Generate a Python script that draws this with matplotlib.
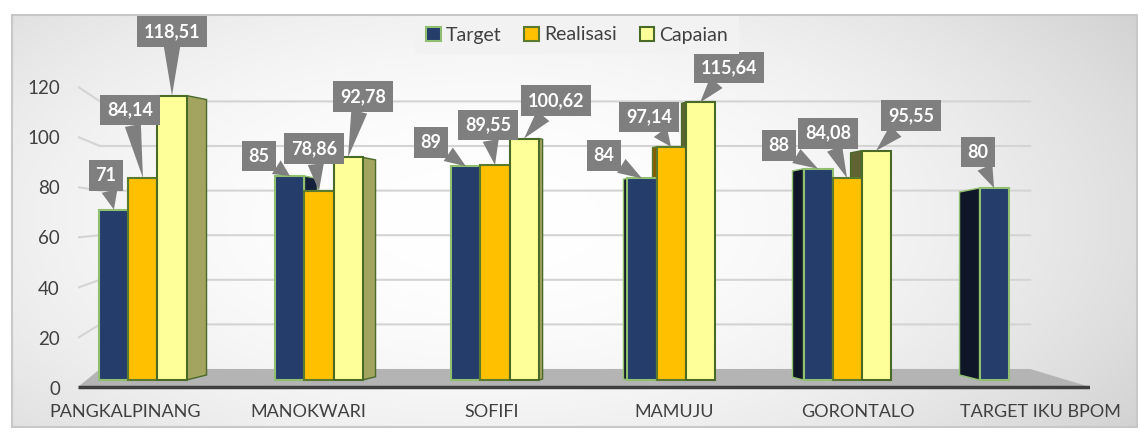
import matplotlib
matplotlib.use('Agg')
import matplotlib.pyplot as plt
import numpy as np
from matplotlib.patches import Polygon, Rectangle

plt.rcParams['font.family'] = ['Lato', 'DejaVu Sans']

# ── Data ──────────────────────────────────────────────────────────────────────
categories = ['PANGKALPINANG', 'MANOKWARI', 'SOFIFI', 'MAMUJU', 'GORONTALO', 'TARGET IKU BPOM']
target     = [71, 85, 89, 84, 88, 80]
realisasi  = [84.14, 78.86, 89.55, 97.14, 84.08, None]
capaian    = [118.51, 92.78, 100.62, 115.64, 95.55, None]
y_ticks    = [0, 20, 40, 60, 80, 100, 120]

# ── Style ─────────────────────────────────────────────────────────────────────
W  = 0.165          # bar width (category units)
PX = 1 / 176        # data-x per pixel
PY = 1 / 2.4        # data-y per pixel
depth_px = [20, 13, 4, -4, -11, -20]   # fake 3D side faces

series = [
    # name, values, front, edge, right face, left face, offset
    ('Target',    target,    '#253d6b', '#8fbf6f', '#15213a', '#0f1628', -W),
    ('Realisasi', realisasi, '#ffc000', '#5a7a2e', '#b08400', '#8a5a00', 0.0),
    ('Capaian',   capaian,   '#ffff99', '#4a6a28', '#a4a461', '#5f6432', W),
]

# label offsets in pixels (box centre relative to bar top)
label_offsets = [
    [(-8, 34), (-31, 20), (-35, 24), (-38, 23), (-39, 23), (-16, 36)],
    [(-13, 68), (-5, 42), (-7, 40), (-22, 30), (-19, 45)],
    [(0, 64), (15, 61), (32, 38), (29, 35), (35, 35)],
]

TXT = '#404040'

def fmt(v):
    return str(int(v)) if float(v).is_integer() else f'{v:.2f}'.replace('.', ',')

fig = plt.figure(figsize=(11.47, 4.37), dpi=100)

# ── Background: light gradient panel with border ─────────────────────────────
bg = fig.add_axes([0, 0, 1, 1], zorder=0)
bg.set_axis_off()
bg.set_xlim(0, 1147)
bg.set_ylim(437, 0)
gx, gy = np.meshgrid(np.linspace(0, 1, 400), np.linspace(0, 1, 160))
r = np.sqrt(((gx - 0.42) / 0.72) ** 2 + ((gy - 0.5) / 0.95) ** 2)
shade = 1 - 0.19 * np.clip(r, 0, 1.2) ** 2
bg.imshow(np.dstack([shade] * 3), extent=(12, 1137, 427, 15), aspect='auto',
          interpolation='bilinear')
bg.add_patch(Rectangle((12, 15), 1125, 412, fill=False, ec='#c8c8c8', lw=1.5))

# ── Main axes ────────────────────────────────────────────────────────────────
ax = fig.add_axes([78 / 1147, (437 - 389.6) / 437, 1012 / 1147, (389.6 - 44) / 437], zorder=1)
ax.patch.set_alpha(0)
ax.set_xlim(-0.369, 5.38)
ax.set_ylim(-4, 140)
for sp in ax.spines.values():
    sp.set_visible(False)

# perspective gridlines (left wall + back wall)
for v in y_ticks[1:]:
    front = (2.51 * v - 8) * PY
    back = (11 + 2.23 * v) * PY
    ax.plot([-0.369, -0.244, 5.04], [front, back, back], color='#d4d4d4', lw=1.5, zorder=1)

# floor
ax.add_patch(Polygon([(-0.369, -2.9), (5.38, -2.9), (5.04, 4.6), (-0.244, 4.6)],
                     closed=True, fc='#b4b4b4', ec='none', zorder=1.5))
ax.plot([-0.369, 5.38], [-2.9, -2.9], color='#3f3f3f', lw=2.5, zorder=1.6,
        solid_capstyle='butt')

# bars
for si, (name, vals, fc, ec, rface, lface, off) in enumerate(series):
    xs = [i + off for i, v in enumerate(vals) if v is not None]
    hs = [v for v in vals if v is not None]
    ax.bar(xs, hs, W, color=fc, edgecolor=ec, linewidth=1.5, label=name, zorder=3)
    for i, v in enumerate(vals):
        if v is None:
            continue
        xc = i + off
        d = depth_px[i]
        xe = xc + W / 2 if d > 0 else xc - W / 2
        dx = d * PX
        pts = [(xe, 0), (xe + dx, 0.25 * abs(d) * PY),
               (xe + dx, v - 0.2 * abs(d) * PY), (xe, v)]
        ax.add_patch(Polygon(pts, closed=True, fc=rface if d > 0 else lface,
                             ec=ec, lw=1.0, zorder=2))
        ox, oy = label_offsets[si][i]
        ax.annotate(fmt(v), xy=(xc, v), xytext=(ox, oy), textcoords='offset pixels',
                    ha='center', va='center', color='white', fontsize=13,
                    fontweight='bold', zorder=5, annotation_clip=False,
                    bbox=dict(boxstyle='square,pad=0.38', fc='#7f7f7f', ec='none'),
                    arrowprops=dict(arrowstyle='wedge,tail_width=0.9', fc='#7f7f7f',
                                    ec='none', shrinkA=0, shrinkB=0))

# y tick labels placed on the front edge of the left wall
ax.set_yticks([(2.51 * v - 8) * PY for v in y_ticks])
ax.set_yticklabels([str(v) for v in y_ticks])
ax.tick_params(axis='y', length=0, pad=13, labelsize=13.5, labelcolor=TXT)
ax.set_xticks([])

# category labels
for i, c in enumerate(categories):
    ax.text(i + 7 * (i - 2.5) * PX, -13.3, c, ha='center', va='center',
            fontsize=13, color=TXT, clip_on=False)

# legend
leg = ax.legend(loc='center', bbox_to_anchor=(577 / 1147, 1 - 35 / 437),
                bbox_transform=fig.transFigure, ncol=3, frameon=True, fancybox=False,
                facecolor='#f2f2f2', edgecolor='none', framealpha=1.0,
                handlelength=0.75, handleheight=0.75, handletextpad=0.25,
                columnspacing=1.2, fontsize=14, borderpad=0.55)
for t in leg.get_texts():
    t.set_color(TXT)

fig.savefig('out.png', dpi=100)
